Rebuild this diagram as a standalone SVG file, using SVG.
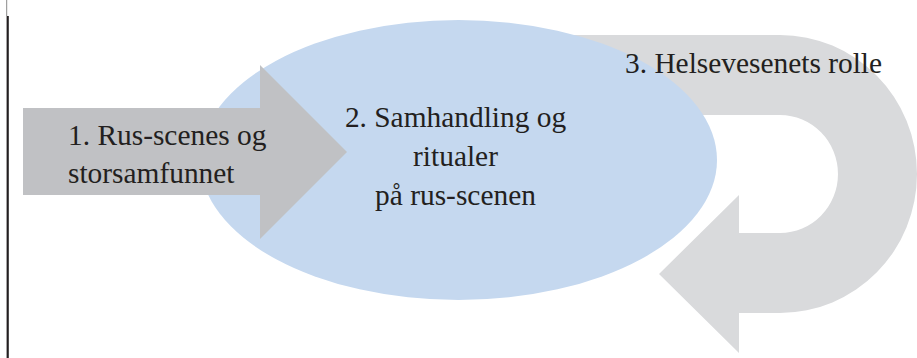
<svg xmlns="http://www.w3.org/2000/svg" width="917" height="358" viewBox="0 0 917 358">
<style>
.t{font-family:"Liberation Serif","Times New Roman",serif;font-size:29.4px;fill:#231f20}
</style>
<rect width="917" height="358" fill="#ffffff"/>
<line x1="6.7" y1="0" x2="6.7" y2="16" stroke="#8a8a8a" stroke-width="1"/>
<line x1="7.7" y1="16" x2="7.7" y2="358" stroke="#231f20" stroke-width="2.2"/>
<g id="connectors">
<path id="loop" d="M560,35 H780 A137,139 0 0 1 780,313 H739 V353 L659,274 L739,195 V233 H780 A58,59 0 0 0 780,115 H560 Z" fill="#d9dadc"/>
</g>
<g id="node2">
<ellipse cx="458.5" cy="160" rx="258.5" ry="140" fill="#c5d8ef"/>
<text class="t" text-anchor="middle" x="455.5" y="127">2. Samhandling og</text>
<text class="t" text-anchor="middle" x="455.5" y="166">ritualer</text>
<text class="t" text-anchor="middle" x="455.5" y="205">på rus-scenen</text>
</g>
<g id="node1">
<path d="M23,108 H260 V65 L347,152 L260,239 V195 H23 Z" fill="#c0c1c4"/>
<text class="t" x="68" y="145">1. Rus-scenes og</text>
<text class="t" x="68" y="183">storsamfunnet</text>
</g>
<g id="node3">
<text class="t" x="625" y="73">3. Helsevesenets rolle</text>
</g>
</svg>
